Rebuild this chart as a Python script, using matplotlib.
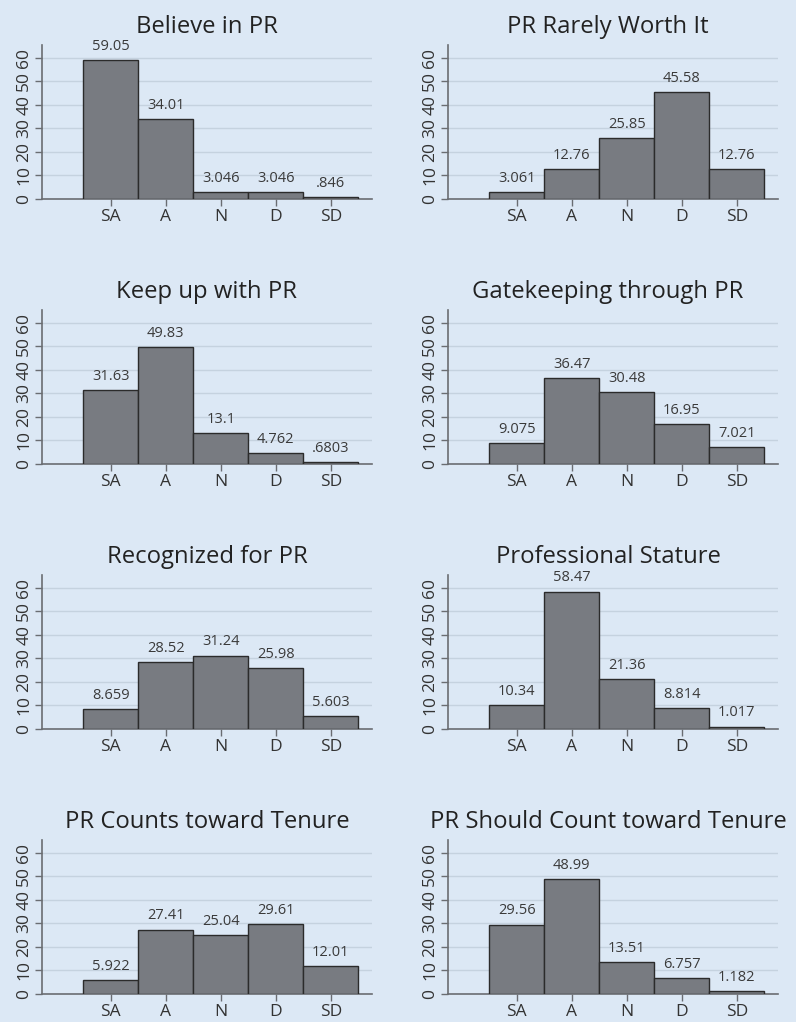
import numpy as np
import matplotlib.pyplot as plt

categories = ["SA", "A", "N", "D", "SD"]

titles = [
    "Believe in PR", "PR Rarely Worth It",
    "Keep up with PR", "Gatekeeping through PR",
    "Recognized for PR", "Professional Stature",
    "PR Counts toward Tenure", "PR Should Count toward Tenure",
]

believe = [59.05, 34.01, 3.046, 3.046, 0.846]
rarely_worth = [3.061, 12.76, 25.85, 45.58, 12.76]
keep_up = [31.63, 49.83, 13.1, 4.762, 0.6803]
gatekeeping = [9.075, 36.47, 30.48, 16.95, 7.021]
recognized = [8.659, 28.52, 31.24, 25.98, 5.603]
stature = [10.34, 58.47, 21.36, 8.814, 1.017]
counts_tenure = [5.922, 27.41, 25.04, 29.61, 12.01]
should_count = [29.56, 48.99, 13.51, 6.757, 1.182]

# labels as printed by Stata (leading zero dropped)
value_labels = [
    ["59.05", "34.01", "3.046", "3.046", ".846"],
    ["3.061", "12.76", "25.85", "45.58", "12.76"],
    ["31.63", "49.83", "13.1", "4.762", ".6803"],
    ["9.075", "36.47", "30.48", "16.95", "7.021"],
    ["8.659", "28.52", "31.24", "25.98", "5.603"],
    ["10.34", "58.47", "21.36", "8.814", "1.017"],
    ["5.922", "27.41", "25.04", "29.61", "12.01"],
    ["29.56", "48.99", "13.51", "6.757", "1.182"],
]

series = [believe, rarely_worth, keep_up, gatekeeping,
          recognized, stature, counts_tenure, should_count]

bg = "#dce8f5"
bar_color = "#787b81"
grid_color = "#c5d2df"
spine_color = "#6a6d72"

plt.rcParams['font.family'] = ['Open Sans', 'DejaVu Sans']

fig = plt.figure(figsize=(7.96, 10.22), dpi=100)
fig.patch.set_facecolor(bg)

W, H = 796.0, 1022.0
lefts = [42, 448]
zeros = [199, 464, 729, 994]
ax_w = 330
ax_h = 154

x = np.arange(len(categories))
for i, vals in enumerate(series):
    r, c = divmod(i, 2)
    ax = fig.add_axes([lefts[c] / W, 1 - zeros[r] / H, ax_w / W, ax_h / H])
    ax.set_facecolor(bg)
    ax.bar(x, vals, width=1.0, color=bar_color, edgecolor="#2b2b2b",
           linewidth=1.0, zorder=3)
    for xi, v, lab in zip(x, vals, value_labels[i]):
        ax.text(xi, v + 2.6, lab, ha="center", va="bottom", fontsize=10.5,
                color="#3a3a3a", zorder=4)
    ax.set_xlim(-1.25, 4.75)
    ax.set_ylim(0, 65.5)
    ax.set_yticks([0, 10, 20, 30, 40, 50, 60])
    ax.set_yticklabels(["0", "10", "20", "30", "40", "50", "60"],
                       rotation=90, va="center", fontsize=12.5, color="#333333")
    ax.set_xticks(x)
    ax.set_xticklabels(categories, fontsize=12.5, color="#333333")
    ax.tick_params(axis="both", length=5, width=1, color=spine_color, pad=2)
    ax.yaxis.grid(True, color=grid_color, linewidth=1, zorder=0)
    ax.set_axisbelow(True)
    for s in ["top", "right"]:
        ax.spines[s].set_visible(False)
    for s in ["left", "bottom"]:
        ax.spines[s].set_color(spine_color)
        ax.spines[s].set_linewidth(1.2)
    t = ax.set_title(titles[i], fontsize=17.2, color="#222222", pad=9)
    if c == 1:
        t.set_x(0.485)

fig.savefig("out.png", dpi=100, facecolor=bg)
